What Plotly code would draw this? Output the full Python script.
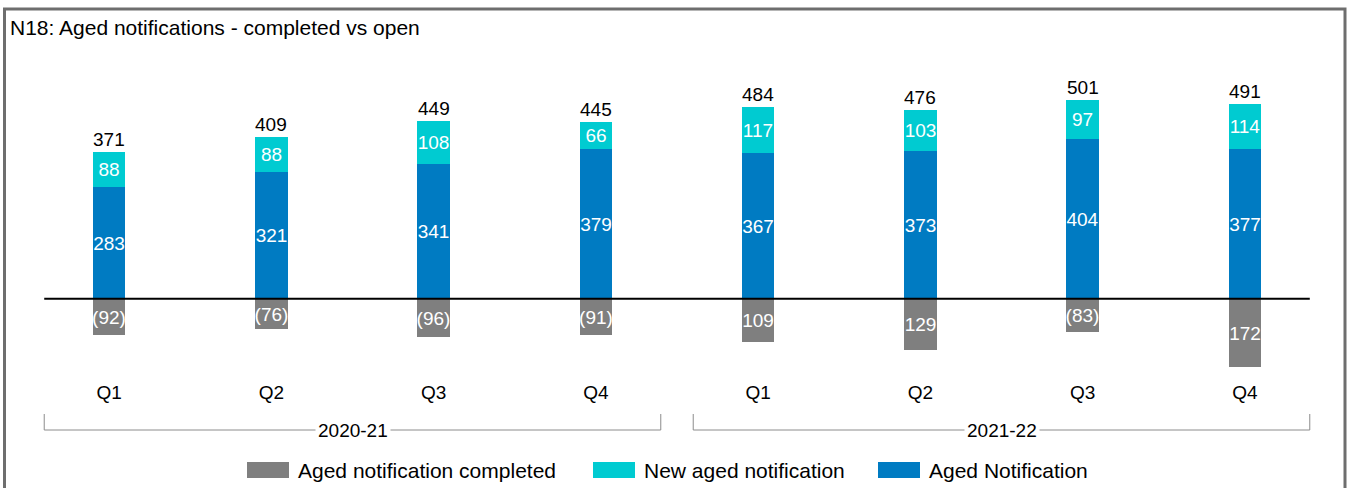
import plotly.graph_objects as go

# data
quarters = ["Q1", "Q2", "Q3", "Q4", "Q1", "Q2", "Q3", "Q4"]
years = ["2020-21", "2021-22"]
aged_open = [283, 321, 341, 379, 367, 373, 404, 377]
new_aged = [88, 88, 108, 66, 117, 103, 97, 114]
completed = [-92, -76, -96, -91, -109, -129, -83, -172]
# labels as printed (small values shown in brackets, wide ones clipped by the bar)
completed_labels = ["(92)", "(76)", "(96)", "(91)", "109", "129", "(83)", "172"]
totals = [a + n for a, n in zip(aged_open, new_aged)]

GREY = "#7f7f7f"
TEAL = "#00cbd1"
BLUE = "#007bc2"
FONT = "Liberation Sans, Arial, sans-serif"

W, H = 1352, 488
L, R, T, B = 28, 1326, 61, 378


def px_x(x):
    return (x - L) / (R - L)


def px_y(y):
    return (B - y) / (B - T)


x = list(range(len(quarters)))
bar_text = dict(textposition="inside", insidetextanchor="middle", textangle=0,
                textfont=dict(color="white", size=19), showlegend=False)

fig = go.Figure()
fig.add_bar(x=x, y=completed, name="Aged notification completed", marker_color=GREY,
            text=completed_labels, **bar_text)
fig.add_bar(x=x, y=aged_open, name="Aged Notification", marker_color=BLUE,
            text=[str(v) for v in aged_open], **bar_text)
fig.add_bar(x=x, y=new_aged, name="New aged notification", marker_color=TEAL,
            text=[str(v) for v in new_aged], **bar_text)
fig.update_traces(marker_line_width=0, width=0.2, cliponaxis=False)

# totals above bars
for i, t in enumerate(totals):
    fig.add_annotation(x=i, y=t, text=str(t), showarrow=False, yanchor="bottom",
                       font=dict(size=19, color="black"))

# zero line
fig.add_shape(type="line", xref="x", yref="y", x0=-0.4, x1=len(x) - 0.6, y0=0, y1=0,
              line=dict(color="black", width=2))

# year brackets
n_per_year = 4
for k, yr in enumerate(years):
    a = k * n_per_year - 0.4
    b = (k + 1) * n_per_year - 0.6
    yb, yt = px_y(430), px_y(414)
    fig.add_shape(type="line", xref="x", yref="paper", x0=a, x1=b, y0=yb, y1=yb,
                  line=dict(color="#8c8c8c", width=1))
    for xe in (a, b):
        fig.add_shape(type="line", xref="x", yref="paper", x0=xe, x1=xe, y0=yb, y1=yt,
                      line=dict(color="#8c8c8c", width=1))
    fig.add_annotation(x=(a + b) / 2, xref="x", y=yb, yref="paper", text=yr, showarrow=False,
                       bgcolor="white", borderpad=2, yanchor="middle",
                       font=dict(size=19, color="black"))

# custom legend
legend_items = [("Aged notification completed", GREY, 247),
                ("New aged notification", TEAL, 593),
                ("Aged Notification", BLUE, 878)]
for label, col, x0 in legend_items:
    fig.add_shape(type="rect", xref="paper", yref="paper",
                  x0=px_x(x0), x1=px_x(x0 + 42), y0=px_y(478), y1=px_y(462),
                  fillcolor=col, line_width=0)
    fig.add_annotation(xref="paper", yref="paper", x=px_x(x0 + 49), y=px_y(470), text=label,
                       showarrow=False, xanchor="left", yanchor="middle",
                       font=dict(size=21, color="black"))

# outer frame
fig.add_shape(type="rect", xref="paper", yref="paper",
              x0=px_x(4.5), x1=px_x(1345), y0=px_y(520), y1=px_y(9),
              line=dict(color="#6e6e6e", width=3), fillcolor="rgba(0,0,0,0)")

fig.update_layout(
    width=W, height=H,
    margin=dict(l=L, r=W - R, t=T, b=H - B, pad=0),
    barmode="relative",
    bargap=0,
    plot_bgcolor="white", paper_bgcolor="white",
    font=dict(family=FONT, size=19, color="black"),
    uniformtext=dict(mode="show", minsize=19),
    title=dict(text="N18: Aged notifications - completed vs open", xref="container",
               yref="container", x=10 / W, xanchor="left", y=1 - 28 / H, yanchor="middle",
               font=dict(size=21, color="black")),
    xaxis=dict(range=[-0.5, len(x) - 0.5], tickvals=x, ticktext=quarters, showgrid=False,
               zeroline=False, showline=False, ticks="", ticklabelstandoff=1,
               tickfont=dict(size=19, color="black")),
    yaxis=dict(range=[-200, 600], visible=False, showgrid=False, zeroline=False),
    showlegend=False,
)

# drop the default page margin so the figure sits at the window's corner
fig.write_html("out.html", config={"displayModeBar": False},
               post_script="document.body.style.margin='0';")
